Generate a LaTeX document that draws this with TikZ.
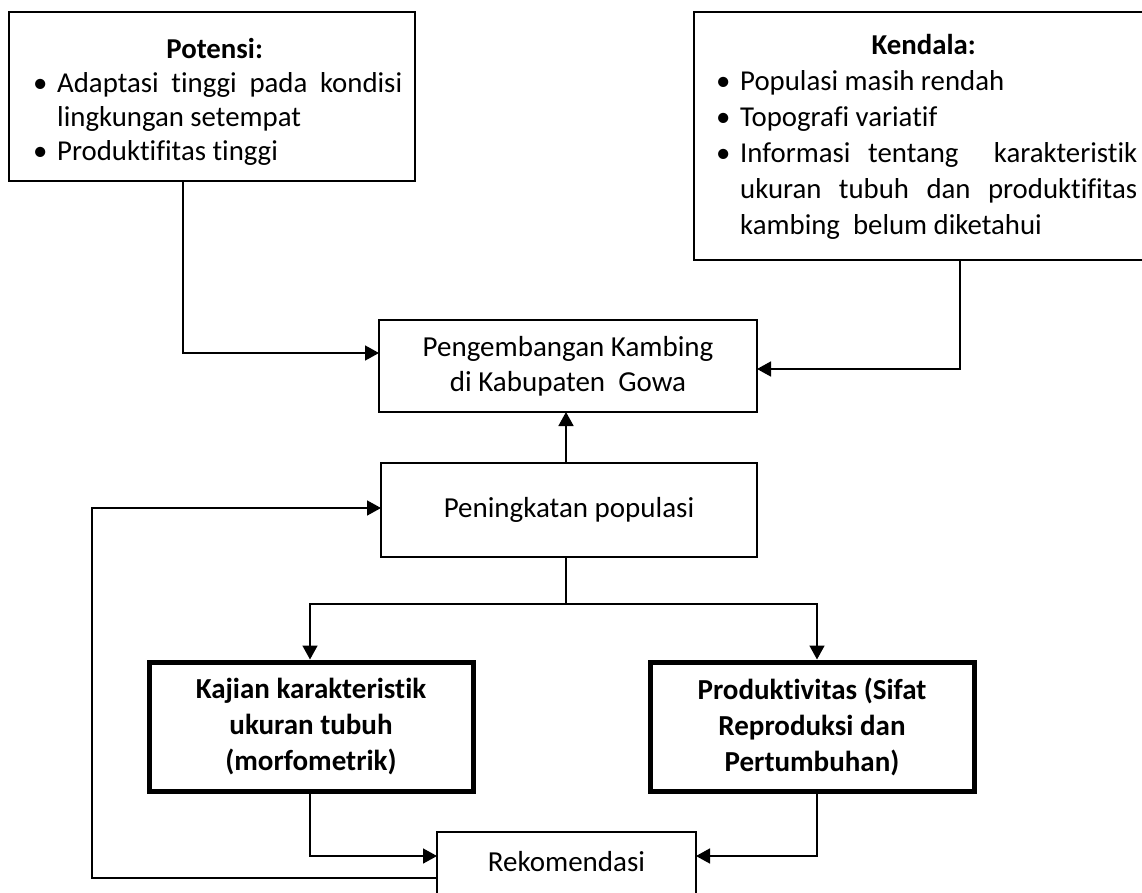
\documentclass[tikz,border=0pt]{standalone}
\usepackage{fontspec}
\setmainfont{Carlito}[Ligatures=NoCommon]
\usetikzlibrary{arrows.meta}
\newcommand{\bitem}[1]{\hangindent=30pt\hangafter=1\noindent\makebox[30pt][l]{\hspace{6pt}\textbullet}#1\par}
\begin{document}
\begin{tikzpicture}[x=1pt,y=-1pt,
  box/.style={draw, line width=1.6pt, inner sep=0pt, outer sep=0pt, align=center,
    font=\fontsize{29}{35}\selectfont},
  boldbox/.style={draw, line width=5pt, inner sep=0pt, align=center,
    font=\bfseries\fontsize{29}{36}\selectfont},
  listtext/.style={inner sep=0pt, align=justify, anchor=base west},
  plain/.style={inner sep=0pt, font=\fontsize{29}{35}\selectfont},
  arr/.style={-{Triangle[length=14pt,width=15pt]}, line width=1.6pt},
  conn/.style={line width=1.6pt}]
\clip (0,0) rectangle (1142,893);
% boxes
\node[box, anchor=north west, minimum width=406pt, minimum height=169pt] (pot) at (9,12) {};
\node[box, anchor=north west, minimum width=456pt, minimum height=248pt] (ken) at (694,12) {};
\node[listtext, text width=375pt, font=\fontsize{28.8}{34}\selectfont] (pottext) at (27,59)
  {\makebox[\linewidth]{\bfseries Potensi:}\par
   \bitem{Adaptasi tinggi pada kondisi\linebreak lingkungan setempat}
   \bitem{Produktifitas tinggi}};
\node[listtext, text width=427pt, font=\fontsize{28.8}{36}\selectfont] (kentext) at (710,55)
  {\makebox[\linewidth]{\bfseries Kendala:}\par
   \bitem{Populasi masih rendah}
   \bitem{Topografi variatif}
   \bitem{Informasi tentang\ \ karakteristik\linebreak ukuran tubuh dan produktifitas\linebreak kambing\ \ belum diketahui}};
\node[box, minimum width=378pt, minimum height=92pt] (peng) at (568,366)
  {Pengembangan Kambing\\di Kabupaten\ \ Gowa};
\node[box, minimum width=376pt, minimum height=94pt] (pen) at (569,510) {Peningkatan populasi};
\node[boldbox, minimum width=324pt, minimum height=129pt] (kaj) at (311,726.5)
  {Kajian karakteristik\\ukuran tubuh\\(morfometrik)};
\node[boldbox, minimum width=324pt, minimum height=129pt] (prod) at (812,726.5)
  {Produktivitas (Sifat\\Reproduksi dan\\Pertumbuhan)};
\node[box, anchor=north, minimum width=259pt, minimum height=90pt] (rek) at (566.5,832) {};
\node[plain] (rektext) at (566.5,862) {Rekomendasi};
% helper coordinates
\coordinate (a1) at (183,353);
\coordinate (a2) at (960,369);
\coordinate (a3) at (566,0);
\coordinate (br) at (566,604);
\coordinate (kx) at (310,0);
\coordinate (px) at (817,0);
\coordinate (ry) at (0,856);
\coordinate (fb) at (92,878);
\coordinate (fy) at (0,508);
% connectors
\draw[arr] (pot.south -| a1) |- (peng.west |- a1);
\draw[arr] (ken.south -| a2) |- (peng.east |- a2);
\draw[arr] (pen.north -| a3) -- (peng.south -| a3);
\draw[conn] (pen.south -| br) -- (br);
\draw[arr] (br) -| (kaj.north -| kx);
\draw[arr] (br) -| (prod.north -| px);
\draw[arr] (kaj.south -| kx) |- (rek.west |- ry);
\draw[arr] (prod.south -| px) |- (rek.east |- ry);
\draw[arr] (rek.west |- fb) -- (fb) |- (pen.west |- fy);
\end{tikzpicture}
\end{document}
